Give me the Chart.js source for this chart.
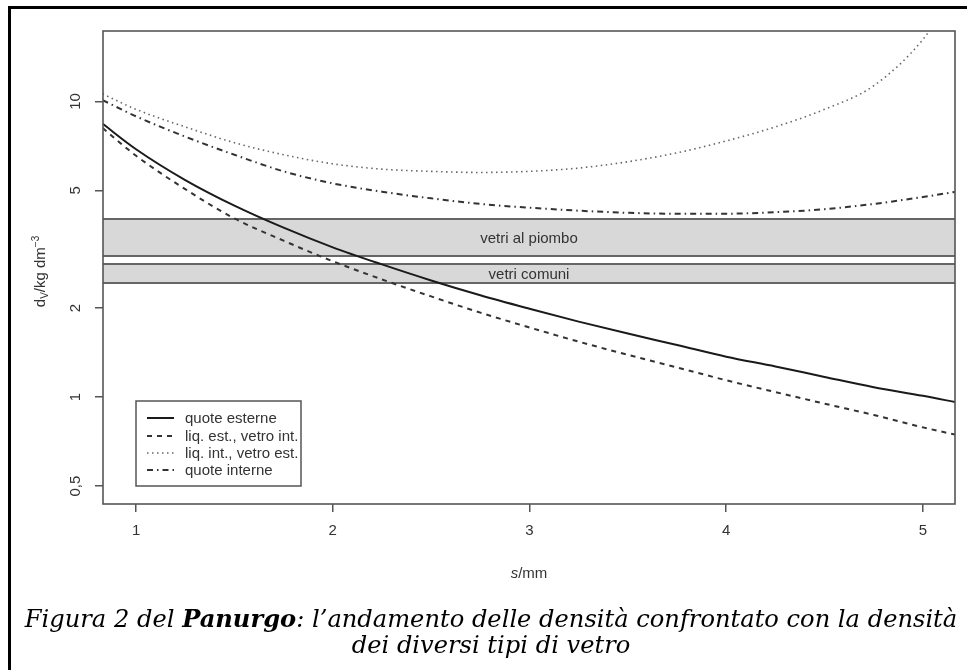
<!DOCTYPE html>
<html>
<head>
<meta charset="utf-8">
<script src="https://cdn.jsdelivr.net/npm/chart.js@4.4.0/dist/chart.umd.min.js"></script>
<style>
  html, body { margin: 0; padding: 0; background: #fff; overflow: hidden; }
  #wrap { position: relative; width: 967px; height: 670px; }
  #frame { position: absolute; left: 8px; top: 6px; width: 2000px; height: 2000px;
           border-left: 3px solid #000; border-top: 3px solid #000; }
  #caption { position: absolute; left: 0; top: 606px; width: 982px; text-align: center;
             font-family: "DejaVu Serif", "Liberation Serif", serif; font-style: italic; font-size: 22px;
             line-height: 26px; color: #000; }
  #caption span { white-space: nowrap; }
</style>
</head>
<body>
<div id="wrap">
  <canvas id="chart" width="967" height="670"></canvas>
  <div id="frame"></div>
  <div id="caption">
    <span id="cap1">Figura 2 del <b>Panurgo</b>: l’andamento delle densità confrontato con la densità</span><br>
    <span id="cap2">dei diversi tipi di vetro</span>
  </div>
</div>
<script>
// thickness s (mm)
const sGrid = [0.83, 1, 1.25, 1.5, 1.75, 2, 2.25, 2.5, 2.75, 3, 3.25, 3.5, 3.75, 4, 4.25, 4.5, 4.75, 5, 5.17];

// densities (kg dm^-3)
const quoteEsterne = [8.40, 6.89, 5.42, 4.44, 3.74, 3.21, 2.81, 2.48, 2.21, 1.99, 1.80, 1.64, 1.50, 1.37, 1.27, 1.17, 1.08, 1.01, 0.96];
const liqEstVetroInt = [8.13, 6.55, 5.05, 4.02, 3.38, 2.88, 2.50, 2.19, 1.93, 1.72, 1.54, 1.39, 1.26, 1.14, 1.04, 0.95, 0.87, 0.79, 0.745];
const liqIntVetroEst = [10.6, 9.4, 8.2, 7.25, 6.6, 6.15, 5.9, 5.8, 5.75, 5.8, 5.95, 6.25, 6.7, 7.35, 8.2, 9.4, 11.3, 16.2, 24];
const quoteInterne = [10.1, 8.9, 7.6, 6.6, 5.8, 5.28, 4.95, 4.7, 4.5, 4.37, 4.27, 4.2, 4.17, 4.17, 4.22, 4.32, 4.5, 4.75, 4.95];

const seriesNames = ['quote esterne', 'liq. est., vetro int.', 'liq. int., vetro est.', 'quote interne'];

// glass density bands
const bandLabels = ['vetri al piombo', 'vetri comuni'];
const bandLow = [3.0, 2.43];
const bandHigh = [4.0, 2.82];

// axes
const xTicks = [1, 2, 3, 4, 5];
const yTicks = [0.5, 1, 2, 5, 10];
const yTickLabels = ['0,5', '1', '2', '5', '10'];
const xMin = 0.832, xMax = 5.163;
const yMin = 0.435, yMax = 17.3;

const textColor = '#333';
const sansFont = '"Liberation Sans", Arial, sans-serif';

function pts(ys) {
    return sGrid.map((s, i) => ({ x: s, y: ys[i] }));
}

const datasets = [
    { label: seriesNames[0], data: pts(quoteEsterne), borderColor: '#1a1a1a', borderWidth: 2, borderDash: [] },
    { label: seriesNames[1], data: pts(liqEstVetroInt), borderColor: '#333', borderWidth: 2, borderDash: [5, 5] },
    { label: seriesNames[2], data: pts(liqIntVetroEst), borderColor: '#666', borderWidth: 1.6, borderDash: [1.5, 3.5] },
    { label: seriesNames[3], data: pts(quoteInterne), borderColor: '#333', borderWidth: 2, borderDash: [6, 4, 1.5, 4] },
].map(d => Object.assign(d, { pointRadius: 0, fill: false, cubicInterpolationMode: 'monotone' }));

// grey bands behind the curves
const bandsPlugin = {
    id: 'bands',
    beforeDatasetsDraw(chart) {
        const { ctx, chartArea, scales } = chart;
        ctx.save();
        for (let i = 0; i < bandLabels.length; i++) {
            const yTop = scales.y.getPixelForValue(bandHigh[i]);
            const yBot = scales.y.getPixelForValue(bandLow[i]);
            ctx.fillStyle = '#d8d8d8';
            ctx.fillRect(chartArea.left, yTop, chartArea.right - chartArea.left, yBot - yTop);
            ctx.strokeStyle = '#666';
            ctx.lineWidth = 2;
            ctx.beginPath();
            ctx.moveTo(chartArea.left, yTop); ctx.lineTo(chartArea.right, yTop);
            ctx.moveTo(chartArea.left, yBot); ctx.lineTo(chartArea.right, yBot);
            ctx.stroke();
            ctx.fillStyle = textColor;
            ctx.font = '15px ' + sansFont;
            ctx.textAlign = 'center';
            ctx.textBaseline = 'middle';
            ctx.fillText(bandLabels[i], (chartArea.left + chartArea.right) / 2, (yTop + yBot) / 2 + 1);
        }
        ctx.restore();
    }
};

// box, rotated y labels, axis titles and legend
const decorPlugin = {
    id: 'decor',
    afterDatasetsDraw(chart) {
        const { ctx, chartArea, scales } = chart;
        ctx.save();
        ctx.strokeStyle = '#555';
        ctx.lineWidth = 1.6;
        ctx.strokeRect(chartArea.left, chartArea.top, chartArea.right - chartArea.left, chartArea.bottom - chartArea.top);

        // y tick labels, rotated like R
        ctx.fillStyle = textColor;
        ctx.font = '15px ' + sansFont;
        ctx.textAlign = 'center';
        ctx.textBaseline = 'middle';
        yTicks.forEach((v, i) => {
            const y = scales.y.getPixelForValue(v);
            ctx.save();
            ctx.translate(76, y);
            ctx.rotate(-Math.PI / 2);
            ctx.fillText(yTickLabels[i], 0, 0);
            ctx.restore();
        });

        // y title: d_V / kg dm^-3
        const parts = [
            { t: 'd', f: '15px', dy: 0 },
            { t: 'V', f: '10px', dy: 3 },
            { t: '/kg dm', f: '15px', dy: 0 },
            { t: '−3', f: '10px', dy: -6 },
        ];
        let total = 0;
        parts.forEach(p => { ctx.font = p.f + ' ' + sansFont; p.w = ctx.measureText(p.t).width; total += p.w; });
        ctx.save();
        ctx.translate(40, (chartArea.top + chartArea.bottom) / 2 + 4);
        ctx.rotate(-Math.PI / 2);
        ctx.textAlign = 'left';
        ctx.textBaseline = 'alphabetic';
        let cx = -total / 2;
        parts.forEach(p => {
            ctx.font = p.f + ' ' + sansFont;
            ctx.fillText(p.t, cx, 5 + p.dy);
            cx += p.w;
        });
        ctx.restore();

        // x title: s/mm
        const xc = (chartArea.left + chartArea.right) / 2;
        ctx.textBaseline = 'middle';
        ctx.textAlign = 'left';
        ctx.font = 'italic 15px ' + sansFont;
        const sw = ctx.measureText('s').width;
        ctx.font = '15px ' + sansFont;
        const mw = ctx.measureText('/mm').width;
        let tx = xc - (sw + mw) / 2;
        ctx.font = 'italic 15px ' + sansFont;
        ctx.fillText('s', tx, 574);
        ctx.font = '15px ' + sansFont;
        ctx.fillText('/mm', tx + sw, 574);

        // legend
        const lx = 136, ly = 401, lw = 165, lh = 85;
        ctx.fillStyle = '#fff';
        ctx.fillRect(lx, ly, lw, lh);
        ctx.strokeStyle = '#555';
        ctx.lineWidth = 1.5;
        ctx.strokeRect(lx, ly, lw, lh);
        const rows = [418, 436, 453, 470];
        chart.data.datasets.forEach((d, i) => {
            ctx.strokeStyle = d.borderColor;
            ctx.lineWidth = d.borderWidth;
            ctx.setLineDash(d.borderDash);
            ctx.beginPath();
            ctx.moveTo(147, rows[i]);
            ctx.lineTo(174, rows[i]);
            ctx.stroke();
            ctx.setLineDash([]);
            ctx.fillStyle = textColor;
            ctx.font = '15px ' + sansFont;
            ctx.textAlign = 'left';
            ctx.fillText(d.label, 185, rows[i] + 1);
        });
        ctx.restore();
    }
};

new Chart(document.getElementById('chart'), {
    type: 'line',
    data: { datasets: datasets },
    options: {
        responsive: false,
        animation: false,
        layout: { padding: { left: 0, top: 31, right: 12, bottom: 116 } },
        plugins: { legend: { display: false }, tooltip: { enabled: false } },
        scales: {
            x: {
                type: 'linear',
                min: xMin,
                max: xMax,
                afterBuildTicks: scale => { scale.ticks = xTicks.map(v => ({ value: v })); },
                afterFit: scale => { scale.height = 50; },
                border: { display: false },
                grid: { drawOnChartArea: false, drawTicks: true, tickLength: 8, color: '#555', lineWidth: 1.5 },
                ticks: { color: textColor, font: { family: sansFont, size: 15 }, padding: 10, maxRotation: 0 }
            },
            y: {
                type: 'logarithmic',
                min: yMin,
                max: yMax,
                afterBuildTicks: scale => { scale.ticks = yTicks.map(v => ({ value: v })); },
                afterFit: scale => { scale.width = 103; },
                border: { display: false },
                grid: { drawOnChartArea: false, drawTicks: true, tickLength: 8, color: '#555', lineWidth: 1.5 },
                ticks: { display: false }
            }
        }
    },
    plugins: [bandsPlugin, decorPlugin]
});

// fit the first caption line to the width it has in the figure
const caption = document.getElementById('caption');
const cap1 = document.getElementById('cap1');
const w = cap1.getBoundingClientRect().width;
caption.style.fontSize = (22 * 933 / w) + 'px';
</script>
</body>
</html>
